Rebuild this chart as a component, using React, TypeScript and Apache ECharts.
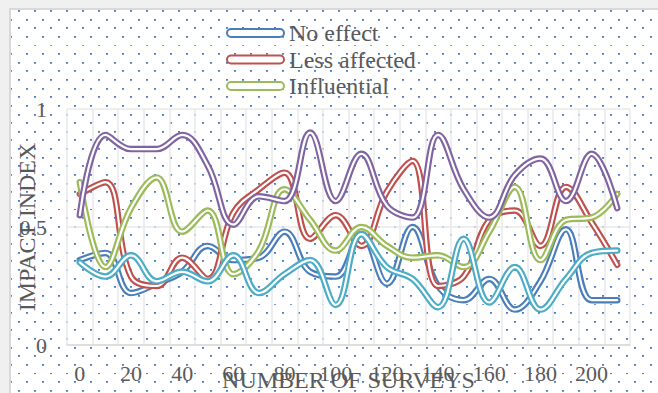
import React, { useEffect, useRef } from "react";
import * as echarts from "echarts";

const categories = ["0", "10", "20", "30", "40", "50", "60", "70", "80", "90", "100", "110", "120", "130", "140", "150", "160", "170", "180", "190", "200", "210"];
const noEffect = [0.36, 0.39, 0.22, 0.26, 0.31, 0.42, 0.36, 0.37, 0.48, 0.31, 0.29, 0.47, 0.26, 0.50, 0.25, 0.19, 0.28, 0.15, 0.27, 0.49, 0.19, 0.19];
const lessAffected = [0.64, 0.69, 0.29, 0.25, 0.37, 0.28, 0.56, 0.66, 0.73, 0.45, 0.55, 0.42, 0.65, 0.78, 0.25, 0.29, 0.53, 0.57, 0.42, 0.67, 0.52, 0.34];
const influential = [0.69, 0.33, 0.58, 0.71, 0.48, 0.57, 0.30, 0.40, 0.66, 0.53, 0.40, 0.50, 0.42, 0.37, 0.38, 0.33, 0.48, 0.67, 0.36, 0.53, 0.54, 0.64];
const series4 = [0.55, 0.89, 0.83, 0.83, 0.89, 0.76, 0.51, 0.63, 0.61, 0.90, 0.61, 0.81, 0.59, 0.54, 0.89, 0.66, 0.54, 0.72, 0.79, 0.61, 0.81, 0.58];
const series5 = [0.35, 0.29, 0.38, 0.27, 0.31, 0.27, 0.38, 0.22, 0.30, 0.36, 0.17, 0.47, 0.33, 0.28, 0.16, 0.45, 0.18, 0.33, 0.15, 0.28, 0.39, 0.40];

const seriesNames = ["No effect", "Less affected", "Influential", "Series4", "Series5"];
const seriesData = [noEffect, lessAffected, influential, series4, series5];
const colors = ["#4a7ebb", "#c0504d", "#9bbb59", "#8064a2", "#4bacc6"];
const legendNames = ["No effect", "Less affected", "Influential"];
const yTickLabels: Record<string, string> = { "0": "0", "0.5": "0.5", "1": "1" };

const FONT = "'Liberation Serif', 'Times New Roman', serif";
const TXT = "#595959";

const dotSvg =
  "data:image/svg+xml;utf8," +
  encodeURIComponent(
    "<svg xmlns='http://www.w3.org/2000/svg' width='16' height='17.27'>" +
      "<rect x='8' y='0' width='2' height='1.7' fill='#4a7dc9'/>" +
      "<rect x='0' y='8.64' width='2' height='1.7' fill='#4a7dc9'/>" +
      "</svg>"
  );

export default function App() {
  const ref = useRef<HTMLDivElement>(null);
  useEffect(() => {
    if (!ref.current) return;
    const chart = echarts.init(ref.current, undefined, { renderer: "svg" });
    const series: any[] = [];
    seriesNames.forEach((name, i) => {
      series.push({
        name,
        type: "line",
        data: seriesData[i],
        smooth: 0.4,
        symbol: "none",
        lineStyle: { color: colors[i], width: 6.5, cap: "round", join: "round" },
        itemStyle: { color: colors[i] },
        emphasis: { disabled: true },
        silent: true,
      });
      series.push({
        name: name + " inner",
        type: "line",
        data: seriesData[i],
        smooth: 0.4,
        symbol: "none",
        lineStyle: { color: "#ffffff", width: 2.2, cap: "round", join: "round" },
        emphasis: { disabled: true },
        silent: true,
      });
    });
    chart.setOption({
      animation: false,
      backgroundColor: "transparent",
      legend: {
        orient: "vertical",
        left: 226,
        top: 21,
        padding: 0,
        itemWidth: 57,
        itemHeight: 8,
        itemGap: 2.5,
        selectedMode: false,
        icon: "path://M4,0 L53,0 A4,4 0 0 1 53,8 L4,8 A4,4 0 0 1 4,0 Z",
        data: legendNames.map((n, i) => ({
          name: n,
          itemStyle: { color: "#ffffff", borderColor: colors[i], borderWidth: 2 },
        })),
        textStyle: { fontFamily: FONT, fontSize: 24, color: TXT, lineHeight: 24 },
      },
      grid: { left: 67, top: 109, width: 563, height: 236, containLabel: false, outerBoundsMode: "none" },
      xAxis: {
        type: "category",
        data: categories,
        boundaryGap: true,
        name: "NUMBER OF SURVEYS",
        nameLocation: "middle",
        nameGap: 23,
        nameMoveOverlap: false,
        nameTextStyle: { fontFamily: FONT, fontSize: 24, color: TXT },
        axisLine: { show: true, lineStyle: { color: "#d9d9d9", width: 1.5 } },
        axisTick: { show: false },
        axisLabel: { interval: 1, fontFamily: FONT, fontSize: 22, color: TXT, margin: 17 },
        splitLine: { show: true, interval: 0, lineStyle: { color: "#e8e8e8", width: 1.5 } },
      },
      yAxis: {
        type: "value",
        min: 0,
        max: 1,
        interval: 0.5,
        name: "IMPACT INDEX",
        nameLocation: "middle",
        nameGap: 28,
        nameMoveOverlap: false,
        nameTextStyle: { fontFamily: FONT, fontSize: 24, color: TXT },
        axisLine: { show: false },
        axisTick: { show: false },
        axisLabel: {
          fontFamily: FONT,
          fontSize: 22,
          color: TXT,
          margin: 20,
          formatter: (v: number) => yTickLabels[String(v)] ?? String(v),
        },
        splitLine: { show: true, lineStyle: { color: "#e8e8e8", width: 1.5 } },
      },
      series,
    });
    return () => chart.dispose();
  }, []);

  return (
    <div style={{ position: "fixed", left: 0, top: 0, width: 658, height: 393, background: "#f0f0f0", overflow: "hidden" }}>
      <div
        style={{
          position: "absolute",
          left: 9,
          top: 8,
          width: 700,
          height: 500,
          borderLeft: "2px solid #d9d9d9",
          borderTop: "2px solid #d9d9d9",
          backgroundColor: "#ffffff",
          backgroundImage: `url("${dotSvg}")`,
          backgroundRepeat: "repeat",
          backgroundPosition: "-1px 0px",
        }}
      />
      <div ref={ref} style={{ position: "absolute", left: 0, top: 0, width: 658, height: 393 }} />
    </div>
  );
}
